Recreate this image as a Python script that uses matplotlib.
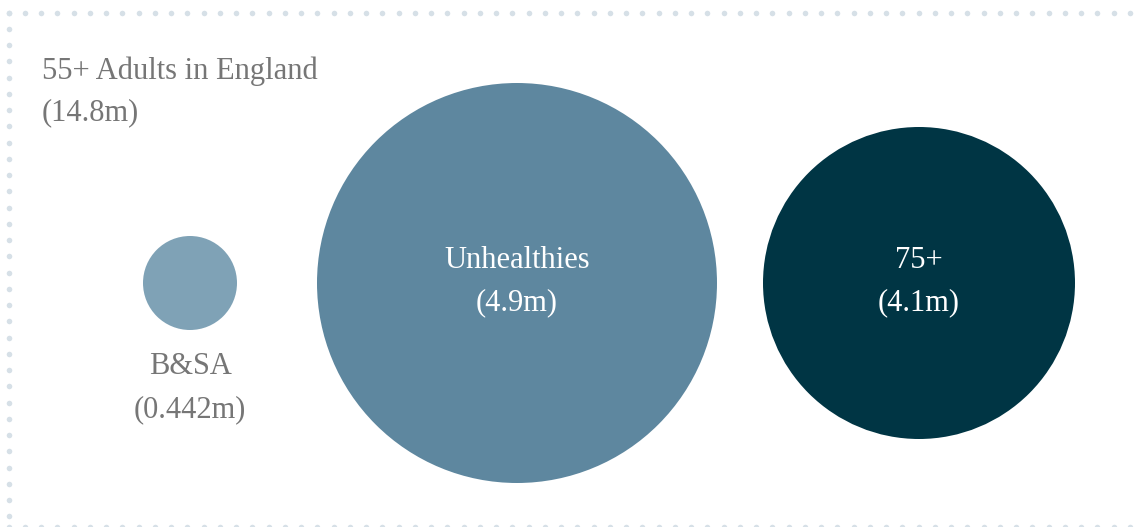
import numpy as np
import matplotlib.pyplot as plt
from matplotlib.patches import Circle

# Population groups (millions)
groups = ['B&SA', 'Unhealthies', '75+']
values = [0.442, 4.9, 4.1]
total_label = '55+ Adults in England'
total_value = 14.8

colors = ['#7fa2b6', '#5e879f', '#003544']
grey = '#767676'

plt.rcParams['font.family'] = ['Liberation Serif', 'DejaVu Serif']

W, H = 1139, 527
fig = plt.figure(figsize=(W / 100, H / 100), dpi=100)
ax = fig.add_axes([0, 0, 1, 1])
ax.set_xlim(0, W)
ax.set_ylim(H, 0)
ax.set_axis_off()


def radius(v):
    # bubble scale used on the page
    return np.interp(v, [0.442, 4.1, 4.9], [47, 156, 200])


centres_x = [190, 517, 919]
cy = 283
fs = 22

for i, (g, v) in enumerate(zip(groups, values)):
    ax.add_patch(Circle((centres_x[i], cy), radius(v), color=colors[i], lw=0))
    if i == 0:
        ax.text(centres_x[i], cy + radius(v) + 36, g, ha='center', va='center',
                fontsize=fs, color=grey)
        ax.text(centres_x[i], cy + radius(v) + 80, f'({v:g}m)', ha='center',
                va='center', fontsize=fs, color=grey)
    else:
        ax.text(centres_x[i], cy - 23, g, ha='center', va='center',
                fontsize=fs, color='white')
        ax.text(centres_x[i], cy + 20, f'({v:g}m)', ha='center', va='center',
                fontsize=fs, color='white')

ax.text(42, 71, total_label, ha='left', va='center', fontsize=fs, color=grey)
ax.text(42, 113, f'({total_value:g}m)', ha='left', va='center', fontsize=fs,
        color=grey)

# dotted frame
dot = '#d6e0e7'
xs = np.arange(8.5, 1130, 16.25)
ys = np.arange(12.5, 530, 16.25)
ax.scatter(xs, np.full_like(xs, 12.5), s=16, color=dot, lw=0)
ax.scatter(np.full_like(ys, 8.5), ys, s=16, color=dot, lw=0)
ax.scatter(xs, np.full_like(xs, 527), s=16, color=dot, lw=0)

fig.savefig('out.png', dpi=100)
